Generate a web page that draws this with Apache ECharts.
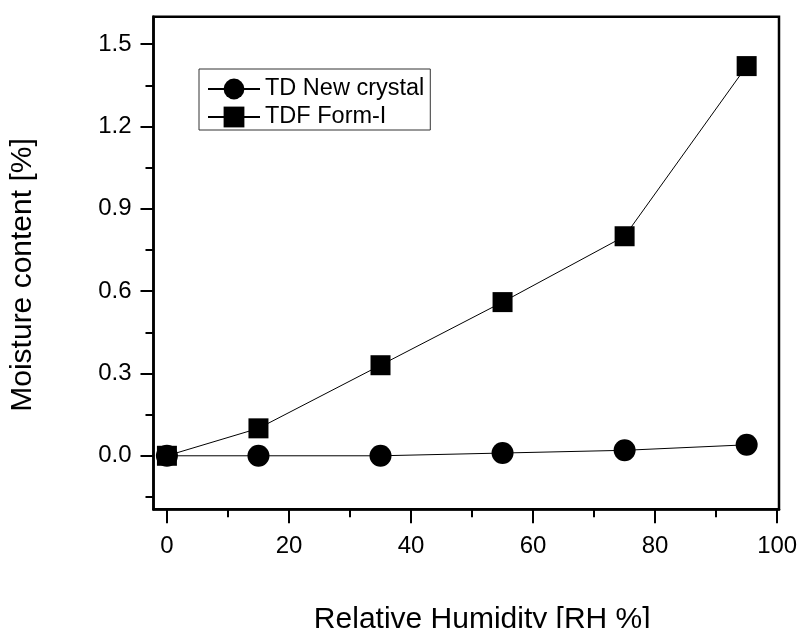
<!DOCTYPE html>
<html>
<head>
<meta charset="utf-8">
<script src="https://cdn.jsdelivr.net/npm/echarts@6/dist/echarts.min.js"></script>
<style>html,body{margin:0;padding:0;background:#fff}#c{width:802px;height:628px}</style>
</head>
<body>
<div id="c"></div>
<script>
const humidity = [0, 15, 35, 55, 75, 95];
const tdNewCrystal = [0, 0, 0, 0.01, 0.02, 0.04];
const tdfFormI = [0, 0.10, 0.33, 0.56, 0.80, 1.42];
const seriesNames = ['TD New crystal', 'TDF Form-I'];
const xMajorTicks = [0, 20, 40, 60, 80, 100];
const xMinorTicks = [10, 30, 50, 70, 90];
const yMajorTicks = [0, 0.3, 0.6, 0.9, 1.2, 1.5];
const yMinorTicks = [-0.15, 0.15, 0.45, 0.75, 1.05, 1.35];
const xTitle = 'Relative Humidity [RH %]';
const yTitle = 'Moisture content [%]';

const font = 'Liberation Sans, Arial, sans-serif';
const chart = echarts.init(document.getElementById('c'));
const pair = (xs, ys) => xs.map((x, i) => [x, ys[i]]);

chart.setOption({
  animation: false,
  backgroundColor: '#fff',
  grid: { left: 153.5, right: 23, top: 16.7, bottom: 118.7, containLabel: false, outerBoundsMode: 'none',
    show: true, borderColor: '#000', borderWidth: 2.5, backgroundColor: 'transparent' },
  legend: {
    left: 199, top: 69, orient: 'vertical',
    padding: [8, 6, 1, 8], itemGap: 4,
    itemWidth: 52, itemHeight: 26,
    borderColor: '#333', borderWidth: 1,
    textStyle: { fontFamily: font, fontSize: 23.5, color: '#000' },
    data: seriesNames
  },
  xAxis: [{
    type: 'value', min: -2.2, max: 100.3,
    name: xTitle, nameLocation: 'middle', nameGap: 95,
    nameTextStyle: { fontFamily: font, fontSize: 30, color: '#000', padding: [0, 0, 0, 32] },
    axisLine: { show: true, onZero: false, lineStyle: { color: '#000', width: 2.5 } },
    axisTick: { show: true, length: 14, lineStyle: { color: '#000', width: 2 }, customValues: xMajorTicks },
    axisLabel: { fontFamily: font, fontSize: 24, color: '#000', margin: 25, customValues: xMajorTicks },
    splitLine: { show: false }
  }, {
    type: 'value', min: -2.2, max: 100.3, position: 'bottom',
    axisLine: { show: false, onZero: false },
    axisTick: { show: true, length: 8, lineStyle: { color: '#000', width: 2 }, customValues: xMinorTicks },
    axisLabel: { show: false },
    splitLine: { show: false }
  }],
  yAxis: [{
    type: 'value', min: -0.195, max: 1.6,
    name: yTitle, nameLocation: 'middle', nameGap: 116,
    nameTextStyle: { fontFamily: font, fontSize: 30, color: '#000', padding: [0, 24, 0, 0] },
    axisLine: { show: true, onZero: false, lineStyle: { color: '#000', width: 2.5 } },
    axisTick: { show: true, length: 13, lineStyle: { color: '#000', width: 2 }, customValues: yMajorTicks },
    axisLabel: { fontFamily: font, fontSize: 24, color: '#000', margin: 22, customValues: yMajorTicks,
      formatter: v => v.toFixed(1) },
    splitLine: { show: false }
  }, {
    type: 'value', min: -0.195, max: 1.6, position: 'left',
    axisLine: { show: false, onZero: false },
    axisTick: { show: true, length: 8, lineStyle: { color: '#000', width: 2 }, customValues: yMinorTicks },
    axisLabel: { show: false },
    splitLine: { show: false }
  }],
  series: [{
    name: seriesNames[0], type: 'line', data: pair(humidity, tdNewCrystal),
    symbol: 'circle', symbolSize: 22, showAllSymbol: true,
    lineStyle: { color: '#000', width: 1 }, itemStyle: { color: '#000' }, z: 3
  }, {
    name: seriesNames[1], type: 'line', data: pair(humidity, tdfFormI),
    symbol: 'rect', symbolSize: 20, showAllSymbol: true,
    lineStyle: { color: '#000', width: 1 }, itemStyle: { color: '#000' }, z: 4
  }]
});
</script>
</body>
</html>
